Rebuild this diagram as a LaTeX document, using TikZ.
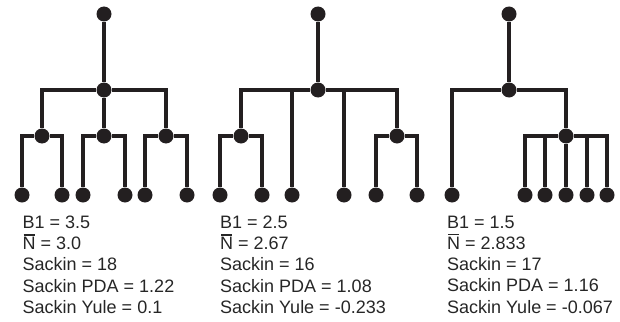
\documentclass[tikz,border=0pt]{standalone}
\usepackage{fontspec}
\setmainfont{Liberation Sans}
\newcommand\nbar{\ooalign{N\cr\hidewidth\rule[0.78em]{0.62em}{0.07em}\hidewidth\cr}}
\begin{document}
\begin{tikzpicture}[x=1pt,y=-1pt,
  dot/.style={circle,fill=treeink,inner sep=0pt,minimum size=15pt},
  edge/.style={draw=treeink,line width=3.3pt},
  stats/.style={anchor=north west,inner sep=0pt,align=left,text=black!85,
    font=\fontsize{18}{21.3}\selectfont}]
\definecolor{treeink}{HTML}{231F20}
\useasboundingbox (0,0) rectangle (620,321);

% ---- balanced tree ----
\node[dot] (r1) at (104,14) {};
\node[dot] (n1) at (104,90) {};
\node[dot] (a1) at (42,136) {};
\node[dot] (b1) at (104,136) {};
\node[dot] (c1) at (166,136) {};
\foreach \i/\x in {1/22,2/62,3/83,4/125,5/145,6/187}
  \node[dot] (l1\i) at (\x,195) {};
\draw[edge] (r1) -- (n1);
\draw[edge] (n1) -| (a1);
\draw[edge] (n1) -- (b1);
\draw[edge] (n1) -| (c1);
\draw[edge] (l11) |- (a1) -| (l12);
\draw[edge] (l13) |- (b1) -| (l14);
\draw[edge] (l15) |- (c1) -| (l16);
\node[stats] (t1) at (22.5,215.5) {B1 = 3.5\\ \nbar{} = 3.0\\ Sackin = 18\\ Sackin PDA = 1.22\\ Sackin Yule = 0.1};

% ---- four-way root ----
\node[dot] (r2) at (318,14) {};
\node[dot] (n2) at (318,90) {};
\node[dot] (a2) at (241,136) {};
\node[dot] (c2) at (397,136) {};
\foreach \i/\x in {1/220,2/262,3/292,4/344,5/376,6/417}
  \node[dot] (l2\i) at (\x,195) {};
\draw[edge] (r2) -- (n2);
\draw[edge] (a2) |- (n2) -| (c2);
\draw[edge] (n2) -| (l23);
\draw[edge] (n2) -| (l24);
\draw[edge] (l21) |- (a2) -| (l22);
\draw[edge] (l25) |- (c2) -| (l26);
\node[stats] (t2) at (220,215.5) {B1 = 2.5\\ \nbar{} = 2.67\\ Sackin = 16\\ Sackin PDA = 1.08\\ Sackin Yule = -0.233};

% ---- comb with a five-way clade ----
\node[dot] (r3) at (509,14) {};
\node[dot] (n3) at (509,90) {};
\node[dot] (c3) at (566,136) {};
\foreach \i/\x in {1/452,2/525,3/545,4/566,5/587,6/607}
  \node[dot] (l3\i) at (\x,195) {};
\draw[edge] (r3) -- (n3);
\draw[edge] (l31) |- (n3) -| (c3);
\draw[edge] (l32) |- (c3) -| (l36);
\draw[edge] (c3) -| (l33);
\draw[edge] (c3) -- (l34);
\draw[edge] (c3) -| (l35);
\node[stats] (t3) at (447,215.5) {B1 = 1.5\\ \nbar{} = 2.833\\ Sackin = 17\\ Sackin PDA = 1.16\\ Sackin Yule = -0.067};
\end{tikzpicture}
\end{document}
